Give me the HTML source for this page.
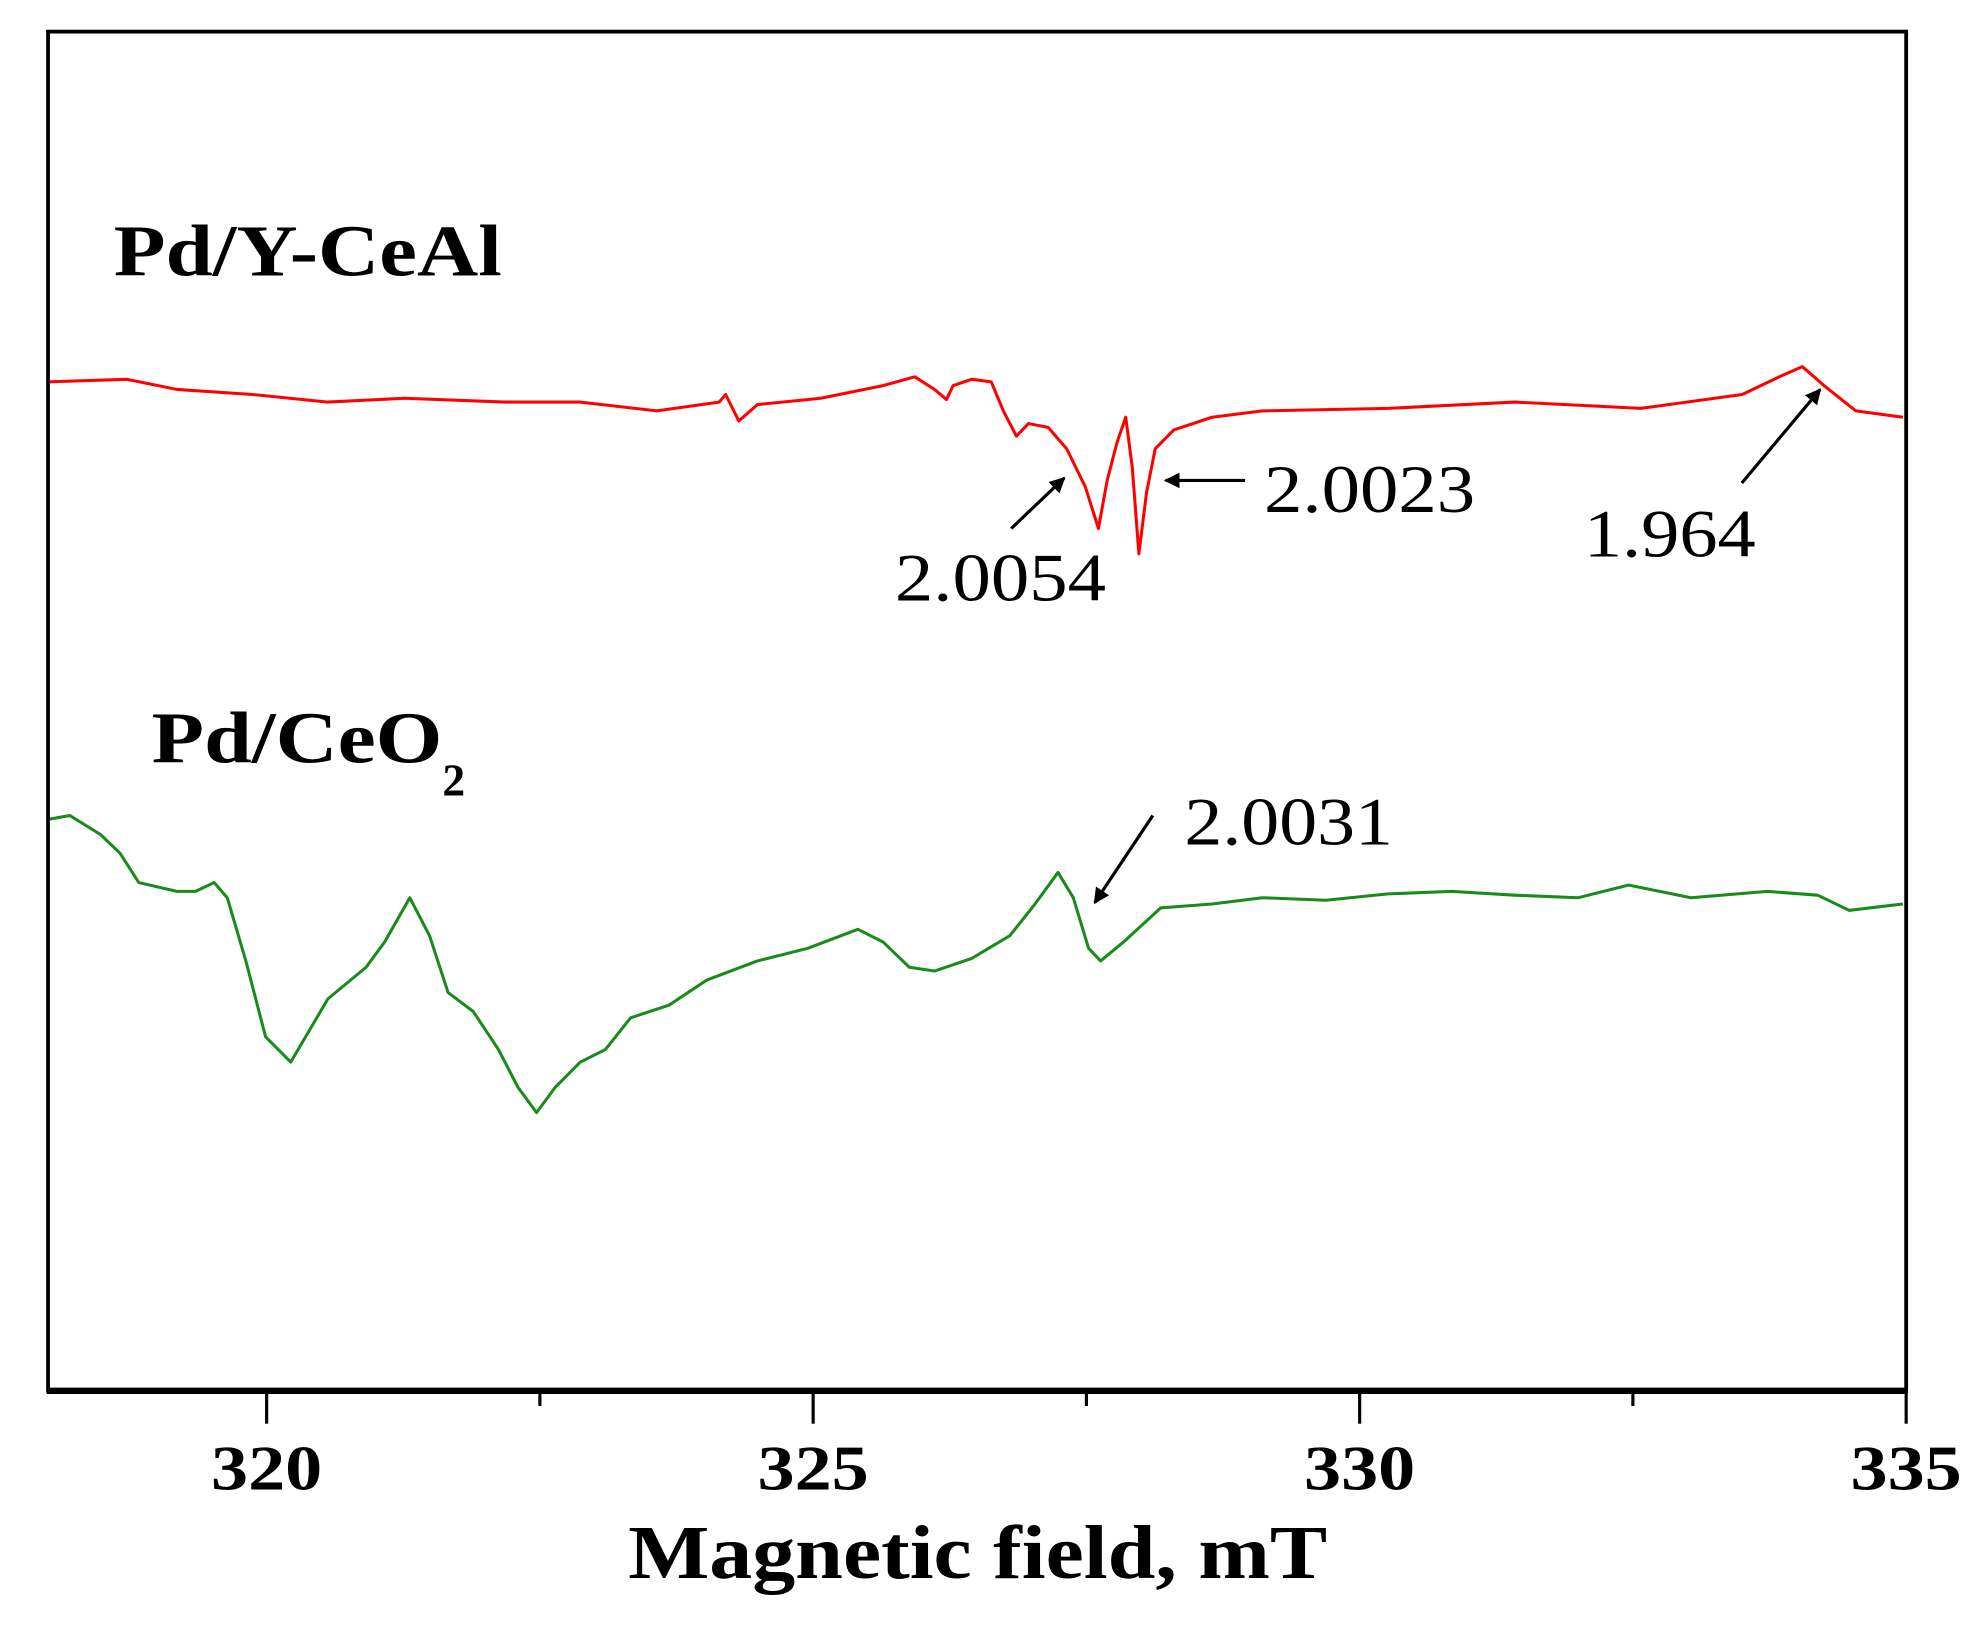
<!DOCTYPE html>
<html><head><meta charset="utf-8"><style>
html,body{margin:0;padding:0;background:#fff;}
svg{display:block;}
text{font-family:"Liberation Serif",serif;}
</style></head><body>
<svg id="chart" width="1982" height="1626" viewBox="0 0 1568 1286" preserveAspectRatio="none" xmlns="http://www.w3.org/2000/svg">
<defs><marker id="ah" viewBox="0 0 10 10" refX="9" refY="5" markerWidth="5" markerHeight="5" orient="auto"><path d="M0,0 L10,5 L0,10 z" fill="#000"/></marker></defs>
<g id="plot"></g>
<rect x="38" y="25" width="1470" height="1075" fill="none" stroke="#000" stroke-width="3"/>
<line x1="37" y1="1100" x2="1509" y2="1100" stroke="#000" stroke-width="5"/>
<g id="ticks"></g>
<text x="497" y="1248" font-size="60" font-weight="bold" textLength="553" lengthAdjust="spacingAndGlyphs">Magnetic field, mT</text>
<text x="90" y="218" font-size="58" font-weight="bold" textLength="307" lengthAdjust="spacingAndGlyphs">Pd/Y-CeAl</text>
<text x="120" y="603" font-size="58" font-weight="bold"><tspan textLength="230" lengthAdjust="spacingAndGlyphs">Pd/CeO</tspan><tspan font-size="36" dy="26">2</tspan></text>
<text x="1000" y="405" font-size="54" textLength="167" lengthAdjust="spacingAndGlyphs">2.0023</text>
<text x="708" y="475" font-size="54" textLength="167" lengthAdjust="spacingAndGlyphs">2.0054</text>
<text x="1253" y="440" font-size="54" textLength="136" lengthAdjust="spacingAndGlyphs">1.964</text>
<text x="937" y="668" font-size="54" textLength="165" lengthAdjust="spacingAndGlyphs">2.0031</text>
<line x1="800" y1="418" x2="842" y2="378" stroke="#000" stroke-width="2.5" marker-end="url(#ah)"/>
<line x1="985" y1="380" x2="922" y2="380" stroke="#000" stroke-width="2.5" marker-end="url(#ah)"/>
<line x1="1378" y1="382" x2="1440" y2="308" stroke="#000" stroke-width="2.5" marker-end="url(#ah)"/>
<line x1="912" y1="645" x2="866" y2="714" stroke="#000" stroke-width="2.5" marker-end="url(#ah)"/>
</svg>
<script>
const redField=[318.00,318.72,319.18,319.87,320.56,321.26,322.18,322.87,323.57,324.14,324.20,324.32,324.49,325.07,325.64,325.93,326.11,326.22,326.28,326.45,326.63,326.74,326.86,326.97,327.15,327.32,327.49,327.61,327.69,327.78,327.86,327.92,327.98,328.05,328.13,328.30,328.65,329.11,330.26,331.42,332.57,333.50,333.84,334.05,334.25,334.54,334.97];
const redSignal=[798,800,792,788,782,785,782,782,775,782,788,767,780,785,795,802,792,784,795,800,798,775,755,765,762,745,715,682,720,750,770,730,662,710,745,760,770,775,777,782,777,788,802,810,795,775,770];
const greenField=[318.00,318.20,318.48,318.66,318.83,319.18,319.35,319.52,319.64,319.81,319.99,320.22,320.39,320.56,320.91,321.08,321.31,321.49,321.66,321.89,322.12,322.30,322.47,322.64,322.87,323.10,323.33,323.68,324.03,324.49,324.95,325.41,325.64,325.88,326.11,326.45,326.80,327.03,327.24,327.38,327.52,327.63,327.84,328.18,328.65,329.11,329.69,330.26,330.84,331.42,332.00,332.46,333.03,333.73,334.19,334.48,334.77,334.97];
const greenSignal=[452,455,440,425,402,395,395,402,390,340,280,260,285,310,335,355,390,360,315,300,270,240,220,240,260,270,295,305,325,340,350,365,355,335,332,342,360,385,410,390,350,340,355,382,385,390,388,393,395,392,390,400,390,395,392,380,383,385];
const xTicks=[320,322.5,325,327.5,330,332.5,335];
const xTickLabels=["320","","325","","330","","335"];
const NS="http://www.w3.org/2000/svg";
function xs(f){return 38+(f-318)*(1470/17);}
function ys(v){return 1100-v;}
const plot=document.getElementById('plot');
function series(fx,sy,color,name){
  const p=document.createElementNS(NS,'path');
  p.setAttribute('d',fx.map((f,i)=>(i?'L':'M')+xs(f).toFixed(1)+','+ys(sy[i]).toFixed(1)).join(' '));
  p.setAttribute('fill','none');p.setAttribute('stroke',color);p.setAttribute('stroke-width','2.4');p.setAttribute('stroke-linejoin','round');
  
  
  plot.appendChild(p);
}
series(redField,redSignal,'#ff0000','series-pd-y-ceal');
series(greenField,greenSignal,'#1a8a1a','series-pd-ceo2');
const tg=document.getElementById('ticks');
xTicks.forEach((t,i)=>{
  const major=xTickLabels[i]!=='';
  const l=document.createElementNS(NS,'line');
  l.setAttribute('x1',xs(t));l.setAttribute('x2',xs(t));l.setAttribute('y1',1100);l.setAttribute('y2',major?1126:1112);
  l.setAttribute('stroke','#000');l.setAttribute('stroke-width','2.5');
  
  
  tg.appendChild(l);
  if(major){
    const tx=document.createElementNS(NS,'text');
    tx.setAttribute('x',xs(t)-44);tx.setAttribute('y',1178);
    tx.setAttribute('font-size','50');tx.setAttribute('font-weight','bold');
    tx.setAttribute('textLength','88');tx.setAttribute('lengthAdjust','spacingAndGlyphs');
    tx.textContent=xTickLabels[i];
    
    
    tg.appendChild(tx);
  }
});
</script>
</body></html>
